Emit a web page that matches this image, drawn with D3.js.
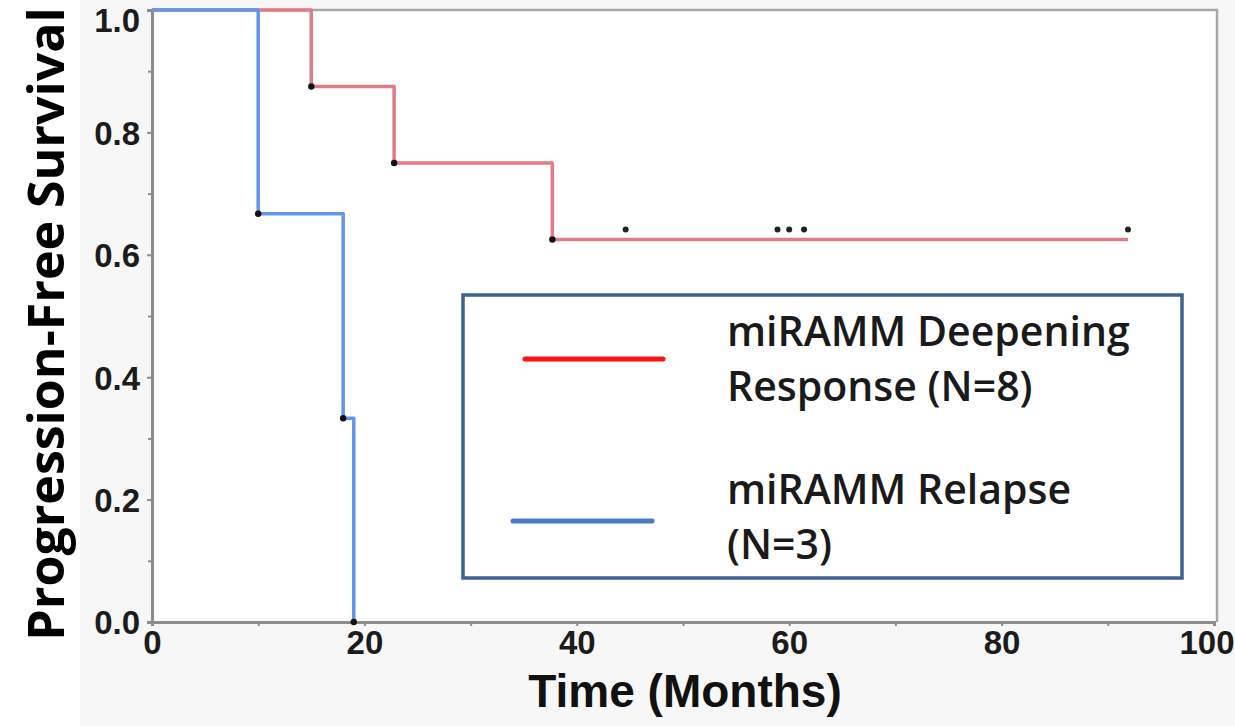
<!DOCTYPE html>
<html>
<head>
<meta charset="utf-8">
<script src="https://cdn.jsdelivr.net/npm/d3@7"></script>
<style>
  body { margin: 0; background: #fff; }
  svg { display: block; }
</style>
</head>
<body>
<svg id="chart" width="1235" height="726"></svg>
<script>
// Kaplan-Meier steps (months, survival)
const deepeningTimes = [0, 15, 22.8, 37.7, 91.9];
const deepeningSurv = [1, 0.875, 0.75, 0.625, 0.625];
const deepeningCensored = [44.6, 58.9, 60.0, 61.4, 91.9];
const relapseTimes = [0, 10, 18, 19];
const relapseSurv = [1, 0.667, 0.333, 0];

const xTicks = [0, 20, 40, 60, 80, 100];
const xMinorTicks = [10, 30, 50, 70, 90];
const yTicks = [0, 0.2, 0.4, 0.6, 0.8, 1.0];
const yMinorTicks = [0.1, 0.3, 0.5, 0.7, 0.9];

const legendLabels = [
  ["miRAMM Deepening", "Response (N=8)"],
  ["miRAMM Relapse", "(N=3)"],
];

const RED = "#e27a88";
const BLUE = "#6394ec";
const AXIS = "#8c8c8c";

const svg = d3.select("#chart");
const plot = { left: 152, right: 1214, top: 10, bottom: 622 };

const x = d3.scaleLinear().domain([0, 100]).range([plot.left, plot.right]);
const y = d3.scaleLinear().domain([0, 1]).range([plot.bottom, plot.top]);

// panel backgrounds
svg.append("rect").attr("x", 80).attr("y", 0).attr("width", 1155).attr("height", 726).attr("fill", "#f7f7f7");
svg.append("rect")
  .attr("x", plot.left).attr("y", plot.top)
  .attr("width", 1217 - plot.left).attr("height", plot.bottom - plot.top)
  .attr("fill", "#fff");

// top and right frame
svg.append("path")
  .attr("d", `M${plot.left},${plot.top}H1217V${plot.bottom}`)
  .attr("fill", "none").attr("stroke", "#a6a6a6").attr("stroke-width", 2.5);

const tickFont = "'Liberation Sans', Arial, sans-serif";

// y axis
const yAxis = svg.append("g").attr("transform", `translate(${plot.left},0)`)
  .call(d3.axisLeft(y).tickValues(yTicks).tickFormat(d3.format(".1f")).tickSize(5).tickPadding(7));
svg.append("g").attr("transform", `translate(${plot.left},0)`)
  .call(d3.axisLeft(y).tickValues(yMinorTicks).tickFormat("").tickSize(4))
  .select(".domain").remove();

// x axis
const xAxis = svg.append("g").attr("transform", `translate(0,${plot.bottom})`)
  .call(d3.axisBottom(x).tickValues(xTicks).tickSize(4).tickPadding(5));
svg.append("g").attr("transform", `translate(0,${plot.bottom})`)
  .call(d3.axisBottom(x).tickValues(xMinorTicks).tickFormat("").tickSize(4))
  .select(".domain").remove();

svg.selectAll(".domain").attr("stroke", AXIS).attr("stroke-width", 3);
svg.selectAll(".tick line").attr("stroke", AXIS).attr("stroke-width", 2);
svg.selectAll(".tick text")
  .attr("font-family", tickFont).attr("font-weight", "bold")
  .attr("font-size", 33).attr("fill", "#1c1c1c");
yAxis.selectAll(".tick text").attr("dy", (d) => (d === 1 ? "0.66em" : "0.36em"));
// the last x label is pulled in so it stays inside the picture
xAxis.selectAll(".tick text").filter((d) => d === 100)
  .attr("text-anchor", "end").attr("x", 20);

// axis titles
svg.append("text")
  .attr("x", (plot.left + plot.right) / 2 + 2).attr("y", 707)
  .attr("text-anchor", "middle")
  .attr("font-family", tickFont).attr("font-weight", "bold").attr("font-size", 46)
  .attr("fill", "#111")
  .text("Time (Months)");

svg.append("text")
  .attr("transform", `translate(64,${(plot.top + plot.bottom) / 2 + 8}) rotate(-90)`)
  .attr("text-anchor", "middle")
  .attr("font-family", "'Open Sans', sans-serif").attr("font-weight", "bold").attr("font-size", 50)
  .attr("fill", "#000")
  .text("Progression-Free Survival");

// survival curves
const toPoints = (times, surv) => times.map((t, i) => ({ t, s: surv[i] }));
const deepening = toPoints(deepeningTimes, deepeningSurv);
const relapse = toPoints(relapseTimes, relapseSurv);

const stepLine = d3.line().x((d) => x(d.t)).y((d) => y(d.s)).curve(d3.curveStepAfter);

const curves = [
  { pts: deepening, color: RED },
  { pts: relapse, color: BLUE },
];

curves.forEach((c) => {
  svg.append("path")
    .datum(c.pts)
    .attr("d", stepLine)
    .attr("fill", "none")
    .attr("stroke", c.color)
    .attr("stroke-width", 3.5)
    .attr("stroke-linejoin", "round");
});

// event markers at each drop
curves.forEach((c) => {
  const events = c.pts.filter((d, i) => i > 0 && d.s < c.pts[i - 1].s);
  svg.append("g").selectAll("circle")
    .data(events)
    .join("circle")
    .attr("cx", (d) => x(d.t))
    .attr("cy", (d) => y(d.s))
    .attr("r", 3.2)
    .attr("fill", "#111");
});

// censoring marks sit just above the line
const survAt = (t) => {
  let s = 1;
  deepening.forEach((d) => { if (d.t <= t) s = d.s; });
  return s;
};
svg.append("g").selectAll("circle")
  .data(deepeningCensored)
  .join("circle")
  .attr("cx", (d) => x(d))
  .attr("cy", (d) => y(survAt(d)) - 10)
  .attr("r", 3)
  .attr("fill", "#222");

// legend
const legend = svg.append("g");
legend.append("rect")
  .attr("x", 463).attr("y", 295).attr("width", 719).attr("height", 283)
  .attr("fill", "#fff").attr("stroke", "#3d6191").attr("stroke-width", 3.5);

const legendSwatches = [
  { x1: 525, x2: 663, y: 359, color: "#ff1010" },
  { x1: 513, x2: 652, y: 521, color: "#4a7cc4" },
];
legendSwatches.forEach((s, i) => {
  legend.append("line")
    .attr("x1", s.x1).attr("x2", s.x2).attr("y1", s.y).attr("y2", s.y)
    .attr("stroke", s.color).attr("stroke-width", 5).attr("stroke-linecap", "round");
  const lines = legendLabels[i];
  const baseY = i === 0 ? 346 : 504;
  lines.forEach((txt, j) => {
    legend.append("text")
      .attr("x", 727).attr("y", baseY + j * 55)
      .attr("font-family", "'Open Sans', sans-serif").attr("font-weight", 600)
      .attr("font-size", 41).attr("fill", "#1a1a1a")
      .text(txt);
  });
});
</script>
</body>
</html>
